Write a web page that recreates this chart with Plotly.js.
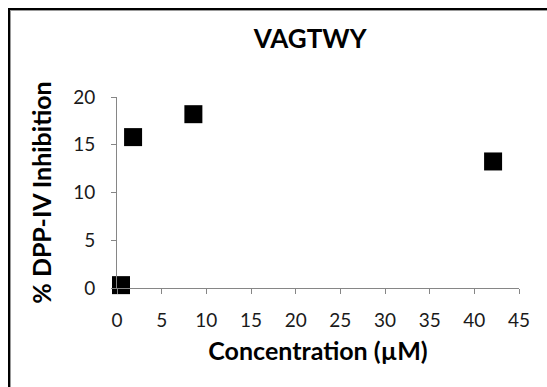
<!DOCTYPE html>
<html>
<head>
<meta charset="utf-8">
<script src="https://cdn.plot.ly/plotly-3.0.1.min.js"></script>
<style>
html,body{margin:0;padding:0;background:#fff;overflow:hidden;}
#wrap{position:relative;width:547px;height:387px;}
#chart{position:absolute;left:0;top:0;width:547px;height:387px;}
#frame{position:absolute;left:8px;top:8px;width:600px;height:400px;border-left:2px solid #000;border-top:2px solid #000;pointer-events:none;box-shadow:inset 1px 1px 0 #999;}
</style>
</head>
<body>
<div id="wrap"><div id="chart"></div><div id="frame"></div></div>
<script>
const chartTitle = "VAGTWY";
const xTitle = "Concentration (µM)";
const yTitle = "% DPP-IV Inhibition";
const concentration = [0.45, 1.8, 8.55, 42.1];
const inhibition = [0.3, 15.8, 18.2, 13.25];
const xTicks = [0, 5, 10, 15, 20, 25, 30, 35, 40, 45];
const yTicks = [0, 5, 10, 15, 20];

const font = "Lato, 'Open Sans', sans-serif";

Plotly.newPlot("chart", [{
  type: "scatter",
  mode: "markers",
  x: concentration,
  y: inhibition,
  marker: {symbol: "square", size: 18, color: "#000", line: {width: 0}},
  cliponaxis: false,
  hoverinfo: "skip"
}], {
  width: 547, height: 387,
  margin: {l: 117, r: 28, t: 97, b: 99},
  paper_bgcolor: "#fff", plot_bgcolor: "#fff",
  showlegend: false,
  title: {text: "<b>" + chartTitle + "</b>", x: 0.567, xanchor: "center", y: 0.9, yanchor: "middle",
          font: {family: font, size: 26, color: "#000"}},
  xaxis: {
    range: [0, 45], tickvals: xTicks, ticktext: xTicks.map(String),
    showgrid: false, zeroline: false, showline: true, linecolor: "#868686", linewidth: 1,
    ticks: "outside", ticklen: 5, tickcolor: "#868686", ticklabelstandoff: 10,
    tickfont: {family: font, size: 19, color: "#1a1a1a"},
    title: {text: "<b>" + xTitle + "</b>", font: {family: font, size: 25, color: "#000"}, standoff: 12}
  },
  yaxis: {
    range: [0, 20], tickvals: yTicks, ticktext: yTicks.map(String),
    showgrid: false, zeroline: false, showline: true, linecolor: "#868686", linewidth: 1,
    ticks: "outside", ticklen: 5, tickcolor: "#868686", ticklabelstandoff: 12,
    tickfont: {family: font, size: 19, color: "#1a1a1a"},
    title: {text: "<b>" + yTitle + "</b>", font: {family: font, size: 25, color: "#000"}, standoff: 14}
  }
}, {staticPlot: true, displayModeBar: false});
</script>
</body>
</html>
